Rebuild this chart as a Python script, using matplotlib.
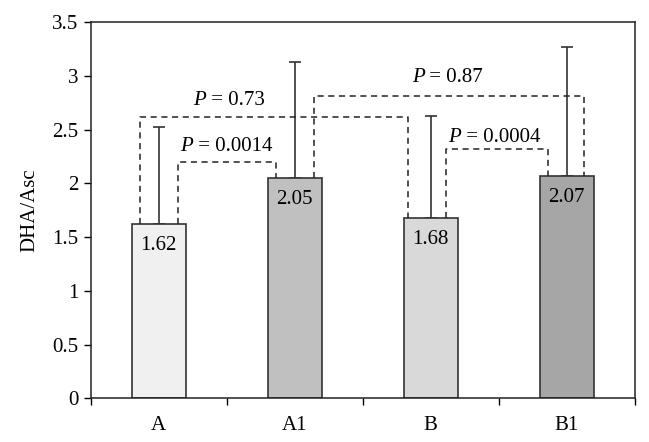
import numpy as np
import matplotlib.pyplot as plt
from matplotlib.ticker import FormatStrFormatter, FixedLocator

# data
groups = ['A', 'A1', 'B', 'B1']
means = [1.62, 2.05, 1.68, 2.07]
err_top = [2.52, 3.13, 2.63, 3.27]
colors = ['#f0f0f0', '#c0c0c0', '#d9d9d9', '#a6a6a6']

# comparisons: (left idx, left offset, right idx, right offset, level, label, label x, label y)
pairs = [
    (0, -0.14, 2, -0.17, 2.62, '0.73', 0.25, 2.77),
    (0, 0.14, 1, -0.14, 2.20, '0.0014', 0.155, 2.34),
    (1, 0.14, 3, 0.13, 2.81, '0.87', 1.86, 2.98),
    (2, 0.11, 3, -0.14, 2.32, '0.0004', 2.13, 2.43),
]

plt.rcParams['font.family'] = ['Liberation Serif', 'DejaVu Serif']
plt.rcParams['font.size'] = 15

fig = plt.figure(figsize=(6.49, 4.42), dpi=100)
ax = fig.add_axes([0.140, 0.099, 0.838, 0.851])

x = np.arange(len(groups))
ax.bar(x, means, width=0.4, color=colors, edgecolor='#333333', linewidth=1.2, zorder=2)
yerr = np.array(err_top) - np.array(means)
ax.errorbar(x, means, yerr=[np.zeros_like(yerr), yerr], fmt='none',
            ecolor='#333333', elinewidth=1.2, capsize=4, capthick=1.2, zorder=1)

for xi, m in zip(x, means):
    ax.text(xi, m - 0.2, f'{m:.2f}', ha='center', va='center')

for li, lo, ri, ro, lev, lab, tx, ty in pairs:
    xs = [li + lo, li + lo, ri + ro, ri + ro]
    ys = [means[li], lev, lev, means[ri]]
    ax.plot(xs, ys, color='#222222', linestyle=(0, (4, 3)), linewidth=1.1, zorder=3)
    t1 = ax.text(tx, ty, 'P', ha='left', va='center', style='italic')
    ax.annotate(f' = {lab}', xy=(1, 0.5), xycoords=t1, ha='left', va='center')

ax.set_xlim(-0.5, 3.5)
ax.set_ylim(0, 3.5)
ax.set_yticks(np.arange(0, 3.51, 0.5))
ax.yaxis.set_major_formatter(FormatStrFormatter('%g'))
ax.xaxis.set_major_locator(FixedLocator([-0.5, 0.5, 1.5, 2.5, 3.5]))
ax.xaxis.set_major_formatter(plt.NullFormatter())
ax.xaxis.set_minor_locator(FixedLocator(x))
ax.xaxis.set_minor_formatter(plt.FixedFormatter(groups))
ax.tick_params(axis='x', which='major', direction='out', length=5, width=1)
ax.tick_params(axis='x', which='minor', length=0, pad=13)
ax.tick_params(axis='y', direction='out', length=5, width=1, pad=4)
for s in ax.spines.values():
    s.set_linewidth(1.1)
    s.set_color('#222222')
ax.set_ylabel('DHA/Asc', labelpad=9)

fig.savefig('out.png', dpi=100)
